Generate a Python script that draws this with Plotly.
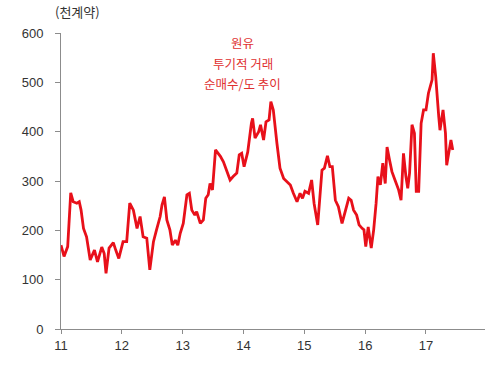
import plotly.graph_objects as go

# decimal year positions and net long contracts (thousands)
years = [2011.00, 2011.05, 2011.11, 2011.16, 2011.20, 2011.26, 2011.30, 2011.33, 2011.37, 2011.42,
         2011.48, 2011.55, 2011.60, 2011.67, 2011.71, 2011.74, 2011.79, 2011.86, 2011.90, 2011.95,
         2012.02, 2012.08, 2012.13, 2012.19, 2012.25, 2012.30, 2012.35, 2012.41, 2012.46, 2012.52,
         2012.57, 2012.63, 2012.66, 2012.70, 2012.74, 2012.79, 2012.83, 2012.88, 2012.92, 2012.96,
         2013.01, 2013.07, 2013.11, 2013.15, 2013.20, 2013.23, 2013.29, 2013.34, 2013.38, 2013.42,
         2013.45, 2013.49, 2013.54, 2013.62, 2013.67, 2013.73, 2013.78, 2013.83, 2013.89, 2013.93,
         2013.97, 2014.01, 2014.07, 2014.13, 2014.15, 2014.19, 2014.25, 2014.28, 2014.33, 2014.37,
         2014.42, 2014.45, 2014.49, 2014.55, 2014.60, 2014.66, 2014.71, 2014.77, 2014.82, 2014.88,
         2014.93, 2014.97, 2015.01, 2015.07, 2015.12, 2015.16, 2015.22, 2015.26, 2015.29, 2015.33,
         2015.38, 2015.42, 2015.46, 2015.51, 2015.56, 2015.62, 2015.67, 2015.73, 2015.77, 2015.81,
         2015.86, 2015.90, 2015.95, 2015.98, 2016.01, 2016.05, 2016.10, 2016.14, 2016.18, 2016.21,
         2016.25, 2016.29, 2016.33, 2016.36, 2016.40, 2016.44, 2016.49, 2016.55, 2016.59, 2016.63,
         2016.67, 2016.70, 2016.73, 2016.77, 2016.81, 2016.84, 2016.88, 2016.92, 2016.96, 2017.00,
         2017.04, 2017.07, 2017.10, 2017.12, 2017.16, 2017.21, 2017.23, 2017.28, 2017.32, 2017.34,
         2017.37, 2017.41, 2017.44]
net_long = [170, 147, 167, 276, 258, 255, 258, 241, 204, 187,
            140, 160, 136, 166, 153, 113, 164, 175, 160, 143,
            177, 177, 255, 241, 204, 228, 187, 184, 120, 177,
            201, 228, 251, 268, 221, 201, 170, 180, 170, 194,
            214, 272, 275, 241, 231, 238, 214, 221, 265, 272,
            295, 282, 363, 350, 339, 319, 302, 309, 316, 353,
            356, 329, 359, 417, 427, 387, 400, 414, 383, 420,
            424, 461, 444, 376, 326, 305, 299, 292, 275, 258,
            275, 265, 279, 275, 302, 255, 211, 275, 322, 326,
            351, 329, 329, 261, 248, 214, 238, 265, 261, 241,
            231, 211, 204, 201, 167, 207, 164, 201, 255, 309,
            292, 336, 295, 369, 343, 319, 302, 282, 261, 356,
            309, 285, 316, 414, 397, 279, 279, 417, 444, 444,
            478, 491, 505, 559, 511, 430, 403, 444, 397, 332,
            356, 383, 363]

x_tickvals = [2011, 2012, 2013, 2014, 2015, 2016, 2017]
x_ticktext = ["11", "12", "13", "14", "15", "16", "17"]
y_tickvals = [0, 100, 200, 300, 400, 500, 600]

unit_label = "(천계약)"
note_lines = ["원유", "투기적 거래", "순매수/도 추이"]
note_y = [580, 539, 498]

font_family = "Liberation Sans, Noto Sans CJK KR, sans-serif"
kr_font = "Noto Sans CJK KR, sans-serif"

fig = go.Figure()
fig.add_trace(go.Scatter(
    x=years, y=net_long, mode="lines",
    line=dict(color="#e8101a", width=2.8, shape="linear"),
    hoverinfo="skip", showlegend=False,
))

annotations = [
    dict(text=unit_label, xref="paper", yref="paper", x=-0.019, y=1.071,
         xanchor="left", yanchor="middle", showarrow=False,
         font=dict(size=13, color="#333333", family=kr_font)),
]
for line_text, yv in zip(note_lines, note_y):
    annotations.append(dict(
        text=line_text, xref="x", yref="y", x=2013.99, y=yv,
        xanchor="center", yanchor="middle", showarrow=False,
        font=dict(size=12.5, color="#e03030", family=kr_font)))

fig.update_layout(
    width=500, height=365,
    margin=dict(l=61, r=15, t=33, b=36),
    paper_bgcolor="white", plot_bgcolor="white",
    font=dict(family=font_family, size=13, color="#333333"),
    xaxis=dict(
        range=[2011, 2017.97], tickvals=x_tickvals, ticktext=x_ticktext,
        showgrid=False, zeroline=False, showline=True, linecolor="#8c8c8c", linewidth=1,
        ticks="outside", ticklen=4, tickcolor="#8c8c8c",
        tickfont=dict(size=13, color="#333333"),
    ),
    yaxis=dict(
        range=[0, 600], tickvals=y_tickvals,
        showgrid=False, zeroline=False, showline=True, linecolor="#8c8c8c", linewidth=1,
        ticks="outside", ticklen=5, tickcolor="#8c8c8c", ticklabelstandoff=9,
        tickfont=dict(size=13, color="#333333"),
    ),
    annotations=annotations,
)

fig.write_html("out.html", config={"displayModeBar": False},
               post_script="document.body.style.margin='0';")
